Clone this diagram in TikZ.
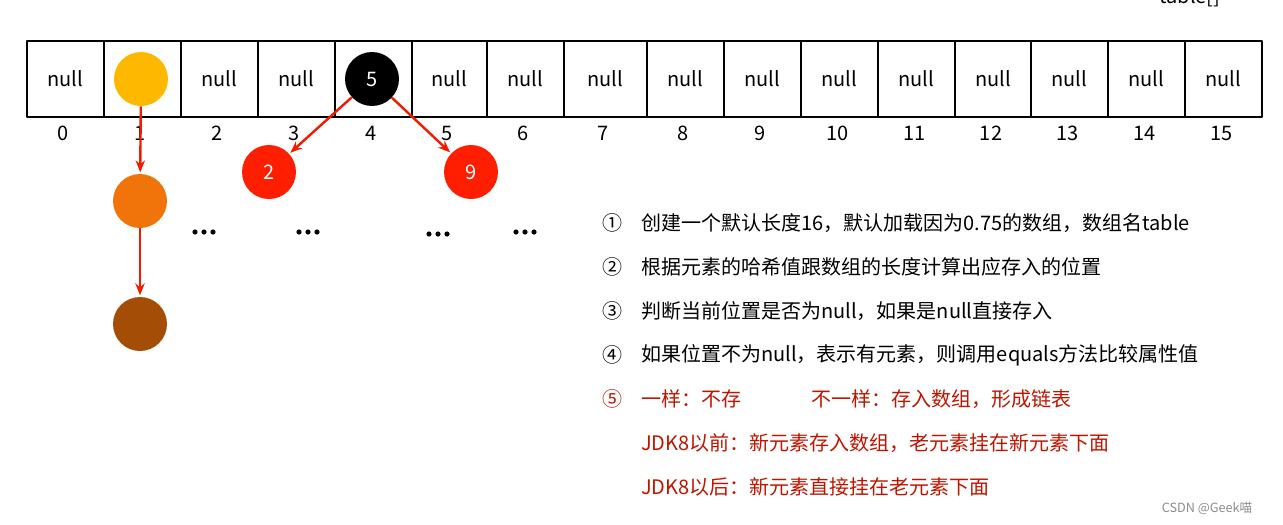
\documentclass[tikz,border=0pt]{standalone}
\usepackage{fontspec}
\setmainfont{Noto Sans CJK SC}
\usetikzlibrary{arrows.meta}
\definecolor{ballyellow}{HTML}{FFB800}
\definecolor{ballorange}{HTML}{F0740A}
\definecolor{ballbrown}{HTML}{A34D06}
\definecolor{ballred}{HTML}{FF1E00}
\definecolor{linkred}{HTML}{F21B00}
\definecolor{notered}{HTML}{BF1500}
\tikzset{
  every picture/.style={
    line join=round,
    >={Stealth[length=9pt,width=7pt]},
    font=\fontsize{15}{18}\selectfont,
  },
  cell/.style={draw, line width=2pt, minimum height=57pt, inner sep=0pt},
  ball/.style={circle, minimum size=40.5pt, inner sep=0pt, text=white},
  link/.style={->, draw=linkred, line width=1.8pt, shorten >=1pt},
  step text/.style={anchor=west, inner sep=0pt},
}

\begin{document}
\begin{tikzpicture}[x=0.75pt, y=-0.75pt]
    \useasboundingbox (0,0) rectangle (1283,525);
    % Array name
    \node[anchor=base] (tname) at (1190,3) {table[]};
    % Array cells and indices
    \foreach \i/\l/\r in {0/27/104, 1/104/181, 2/181/258, 3/258/335,
                          4/335/412, 5/412/487, 6/487/564, 7/564/647,
                          8/647/724, 9/724/801, 10/801/878, 11/878/955,
                          12/955/1031, 13/1031/1108, 14/1108/1185, 15/1185/1262}
    {
        \node[cell, minimum width={(\r-\l)*0.75pt}] (c\i) at ({(\l+\r)/2},79) {};
        \node (i\i) at ({(\l+\r)/2-2},133) {\i};
    }
    \foreach \i in {0,2,3,5,6,7,8,9,10,11,12,13,14,15}
        \node at (c\i) {null};
    % Chain at index 1
    \node[ball, fill=ballyellow] (first) at (141,79) {};
    \node[ball, fill=ballorange] (second) at (140,201) {};
    \node[ball, fill=ballbrown] (third) at (140,324) {};
    \draw[link] (first) -- (second);
    \draw[link] (second) -- (third);
    % Tree at index 4
    \node[ball, fill=black] (root) at (372,79) {5};
    \node[ball, fill=ballred] (small) at (269,172) {2};
    \node[ball, fill=ballred] (big) at (471,172) {9};
    \draw[link] (root) -- (small);
    \draw[link] (root) -- (big);
    % Dots
    \foreach \x/\y in {204/232, 308/232, 438/234, 525/232}
        \foreach \d in {-9,0,9}
            \fill (\x+\d,\y) circle (2.6);
    % Steps
    \node (s1) at (612,223) {①};
    \node[step text] (t1) at (641,223) {创建一个默认长度16，默认加载因为0.75的数组，数组名table};
    \node (s2) at (612,267) {②};
    \node[step text] (t2) at (641,267) {根据元素的哈希值跟数组的长度计算出应存入的位置};
    \node (s3) at (612,311) {③};
    \node[step text] (t3) at (641,311) {判断当前位置是否为null，如果是null直接存入};
    \node (s4) at (612,355) {④};
    \node[step text] (t4) at (641,355) {如果位置不为null，表示有元素，则调用equals方法比较属性值};
    \begin{scope}[text=notered]
        \node (s5) at (612,399) {⑤};
        \node[step text] (t5) at (641,399) {一样：不存};
        \node[step text] (t5b) at (811,399) {不一样：存入数组，形成链表};
        \node[step text] (t6) at (641,443) {JDK8以前：新元素存入数组，老元素挂在新元素下面};
        \node[step text] (t7) at (641,487) {JDK8以后：新元素直接挂在老元素下面};
    \end{scope}
    % Watermark
    \node[text=black!45, font=\fontsize{9.5}{11}\selectfont] (mark) at (1207,508) {CSDN @Geek喵};
\end{tikzpicture}
\end{document}
